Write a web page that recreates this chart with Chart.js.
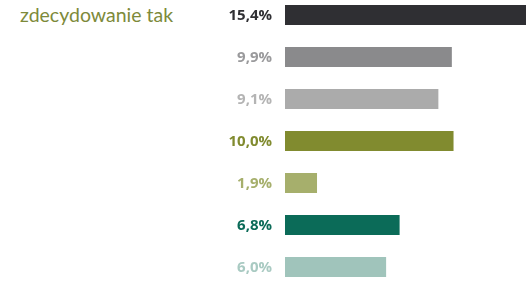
<!DOCTYPE html>
<html>
<head>
<meta charset="utf-8">
<script src="https://cdn.jsdelivr.net/npm/chart.js@4/dist/chart.umd.min.js"></script>
<style>
  html, body { margin: 0; padding: 0; background: #fff; overflow: hidden; }
  #wrap { position: relative; width: 526px; height: 281px; }
  #title {
    position: absolute; left: 20px; top: 3px;
    font-family: Lato, sans-serif; font-size: 19.5px; color: #7d8a3a;
  }
  #box { position: absolute; left: 0; top: -6px; width: 526px; height: 294px; }
</style>
</head>
<body>
<div id="wrap">
  <div id="title">zdecydowanie tak</div>
  <div id="box"><canvas id="chart"></canvas></div>
</div>
<script>
// data
const categories = ['1', '2', '3', '4', '5', '6', '7'];
const values = [15.4, 9.9, 9.1, 10.0, 1.9, 6.8, 6.0];
const barColors = ['#2f2f33', '#8a8a8c', '#ababab', '#818b2f', '#a6af6c', '#0b6b58', '#a0c4bb'];
const labelColors = ['#2f2f33', '#9a9a9c', '#b4b4b4', '#818b2f', '#a6af6c', '#0b6b58', '#a9cac2'];

// value labels left of each bar
const valueLabels = {
  id: 'valueLabels',
  afterDatasetsDraw(chart) {
    const ctx = chart.ctx;
    const yScale = chart.scales.y;
    ctx.save();
    ctx.font = 'bold 15px "Open Sans", sans-serif';
    ctx.textAlign = 'right';
    ctx.textBaseline = 'middle';
    values.forEach((v, i) => {
      ctx.fillStyle = labelColors[i];
      const txt = v.toFixed(1).replace('.', ',') + '%';
      ctx.fillText(txt, chart.chartArea.left - 13, yScale.getPixelForValue(i) + 1);
    });
    ctx.restore();
  }
};

new Chart(document.getElementById('chart'), {
  type: 'bar',
  data: {
    labels: categories,
    datasets: [{
      data: values,
      backgroundColor: barColors,
      borderWidth: 0,
      barPercentage: 20 / 42,
      categoryPercentage: 1
    }]
  },
  options: {
    indexAxis: 'y',
    responsive: true,
    maintainAspectRatio: false,
    animation: false,
    layout: { padding: { left: 285, right: 0, top: 0, bottom: 0 } },
    plugins: { legend: { display: false }, tooltip: { enabled: false } },
    scales: {
      x: { display: false, min: 0, max: 14.3 },
      y: { display: false }
    }
  },
  plugins: [valueLabels]
});
</script>
</body>
</html>
